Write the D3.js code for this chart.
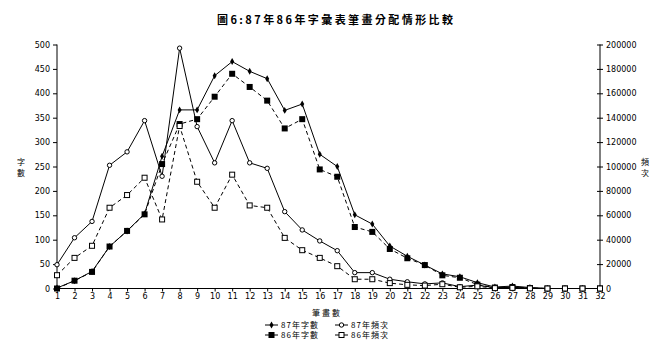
<!DOCTYPE html>
<html><head><meta charset="utf-8">
<script src="https://cdn.jsdelivr.net/npm/d3@7"></script>
<style>body{margin:0;background:#fff}svg{display:block}</style>
</head><body>
<script>
const strokes = d3.range(1, 33);
const words87 = [1, 16, 35, 86, 118, 153, 271, 366, 366, 436, 465, 445, 430, 365, 378, 275, 250, 151, 132, 87, 66, 48, 30, 24, 12, 3, 5, 2, 0, 0, 0, 0];
const words86 = [0, 16, 34, 86, 118, 152, 255, 337, 347, 393, 440, 413, 385, 328, 347, 244, 229, 126, 116, 81, 62, 48, 27, 22, 8, 2, 3, 1, 0, 0, 0, 0];
const freq87 = [19500, 41600, 55000, 101000, 112000, 137600, 92000, 197000, 132700, 103000, 137600, 103000, 98500, 63000, 48000, 39000, 31000, 13000, 13000, 7600, 5500, 3800, 4600, 1500, 2800, 600, 1000, 300, 0, 0, 0, 0];
const freq86 = [10900, 25100, 35000, 66200, 76600, 90800, 56600, 133200, 87500, 66200, 93300, 68100, 66200, 41500, 31400, 25100, 18300, 7600, 7600, 4400, 3000, 2400, 3500, 1000, 1800, 300, 500, 100, 0, 0, 0, 0];
const leftTicks = d3.range(0, 501, 50);
const rightTicks = d3.range(0, 200001, 20000);
const title = "圖6:87年86年字彙表筆畫分配情形比較";
const seriesNames = ["87年字數", "87年頻次", "86年字數", "86年頻次"];

const W = 671, H = 356;
const svg = d3.select("body").append("svg").attr("width", W).attr("height", H);
const font = "'DejaVu Sans', 'Noto Sans CJK TC', sans-serif";
const cjk = "'Noto Sans CJK TC', sans-serif";

const x = d3.scalePoint().domain(strokes).range([57, 600]);
const yL = d3.scaleLinear().domain([0, 500]).range([288.5, 44.5]);
const yR = d3.scaleLinear().domain([0, 200000]).range([288.5, 44.5]);

// title
svg.append("text").attr("x", 335).attr("y", 24).attr("text-anchor", "middle")
  .attr("font-family", cjk).attr("font-weight", "bold").attr("font-size", 11)
  .attr("textLength", 236).attr("lengthAdjust", "spacing").text(title);

// axes
const gL = svg.append("g").attr("transform", "translate(57,0)")
  .call(d3.axisLeft(yL).tickValues(leftTicks).tickSize(4).tickPadding(3).tickFormat(d3.format("d")));
const gR = svg.append("g").attr("transform", "translate(600,0)")
  .call(d3.axisRight(yR).tickValues(rightTicks).tickSize(3).tickPadding(3).tickFormat(d3.format("d")));
gR.selectAll(".tick line").attr("x1", -3);
const gX = svg.append("g").attr("transform", "translate(0,288.5)")
  .call(d3.axisBottom(x).tickSize(3).tickPadding(2));
[gL, gR, gX].forEach(g => {
  g.select(".domain").attr("stroke", "#000");
  g.selectAll(".tick line").attr("stroke", "#000");
  g.selectAll("text").attr("font-family", font).attr("font-size", 8).attr("fill", "#000");
});
gL.select(".domain").attr("d", "M0,44.5V288.5");
gR.select(".domain").attr("d", "M0,44.5V288.5");
gX.select(".domain").attr("d", "M57,0H600");

// axis titles (vertical, one character per text)
function vlabel(txt, xx, yy) {
  [...txt].forEach((c, i) => svg.append("text").attr("x", xx).attr("y", yy + i * 10.5)
    .attr("font-family", cjk).attr("font-size", 8).attr("text-anchor", "middle").text(c));
}
vlabel("字數", 21, 165);
vlabel("頻次", 645, 165);
svg.append("text").attr("x", 327).attr("y", 316).attr("text-anchor", "middle")
  .attr("font-family", cjk).attr("font-size", 8).attr("letter-spacing", 2).text("筆畫數");

const series = [
  {name: seriesNames[0], data: words87, y: yL, dash: null, marker: "diamond"},
  {name: seriesNames[1], data: freq87, y: yR, dash: null, marker: "circle"},
  {name: seriesNames[2], data: words86, y: yL, dash: "4,3", marker: "fsquare"},
  {name: seriesNames[3], data: freq86, y: yR, dash: "4,3", marker: "osquare"}
];

function drawMarker(g, type, cx, cy) {
  if (type === "diamond") {
    g.append("path").attr("d", d3.symbol(d3.symbolDiamond, 14)()).attr("transform", `translate(${cx},${cy})`).attr("fill", "#000");
  } else if (type === "circle") {
    g.append("circle").attr("cx", cx).attr("cy", cy).attr("r", 2.2).attr("fill", "#fff").attr("stroke", "#000").attr("stroke-width", 1);
  } else if (type === "fsquare") {
    g.append("rect").attr("x", cx - 3).attr("y", cy - 3).attr("width", 6).attr("height", 6).attr("fill", "#000");
  } else {
    g.append("rect").attr("x", cx - 2.5).attr("y", cy - 2.5).attr("width", 5).attr("height", 5).attr("fill", "#fff").attr("stroke", "#000").attr("stroke-width", 1);
  }
}

series.forEach(s => {
  const line = d3.line().x((d, i) => x(strokes[i])).y(d => s.y(d));
  svg.append("path").datum(s.data).attr("d", line).attr("fill", "none")
    .attr("stroke", "#000").attr("stroke-width", 1).attr("stroke-dasharray", s.dash);
});
series.forEach(s => {
  const g = svg.append("g");
  s.data.forEach((d, i) => drawMarker(g, s.marker, x(strokes[i]), s.y(d)));
});

// legend
const legPos = [[265, 325], [335, 325], [265, 335], [335, 335]];
series.forEach((s, i) => {
  const [lx, ly] = legPos[i];
  const g = svg.append("g");
  g.append("line").attr("x1", lx).attr("x2", lx + 13).attr("y1", ly).attr("y2", ly)
    .attr("stroke", "#000").attr("stroke-width", 1);
  drawMarker(g, s.marker, lx + 6.5, ly);
  g.append("text").attr("x", lx + 16).attr("y", ly + 3).attr("font-family", cjk)
    .attr("font-size", 8).attr("letter-spacing", 1).text(s.name);
});
</script>
</body></html>
